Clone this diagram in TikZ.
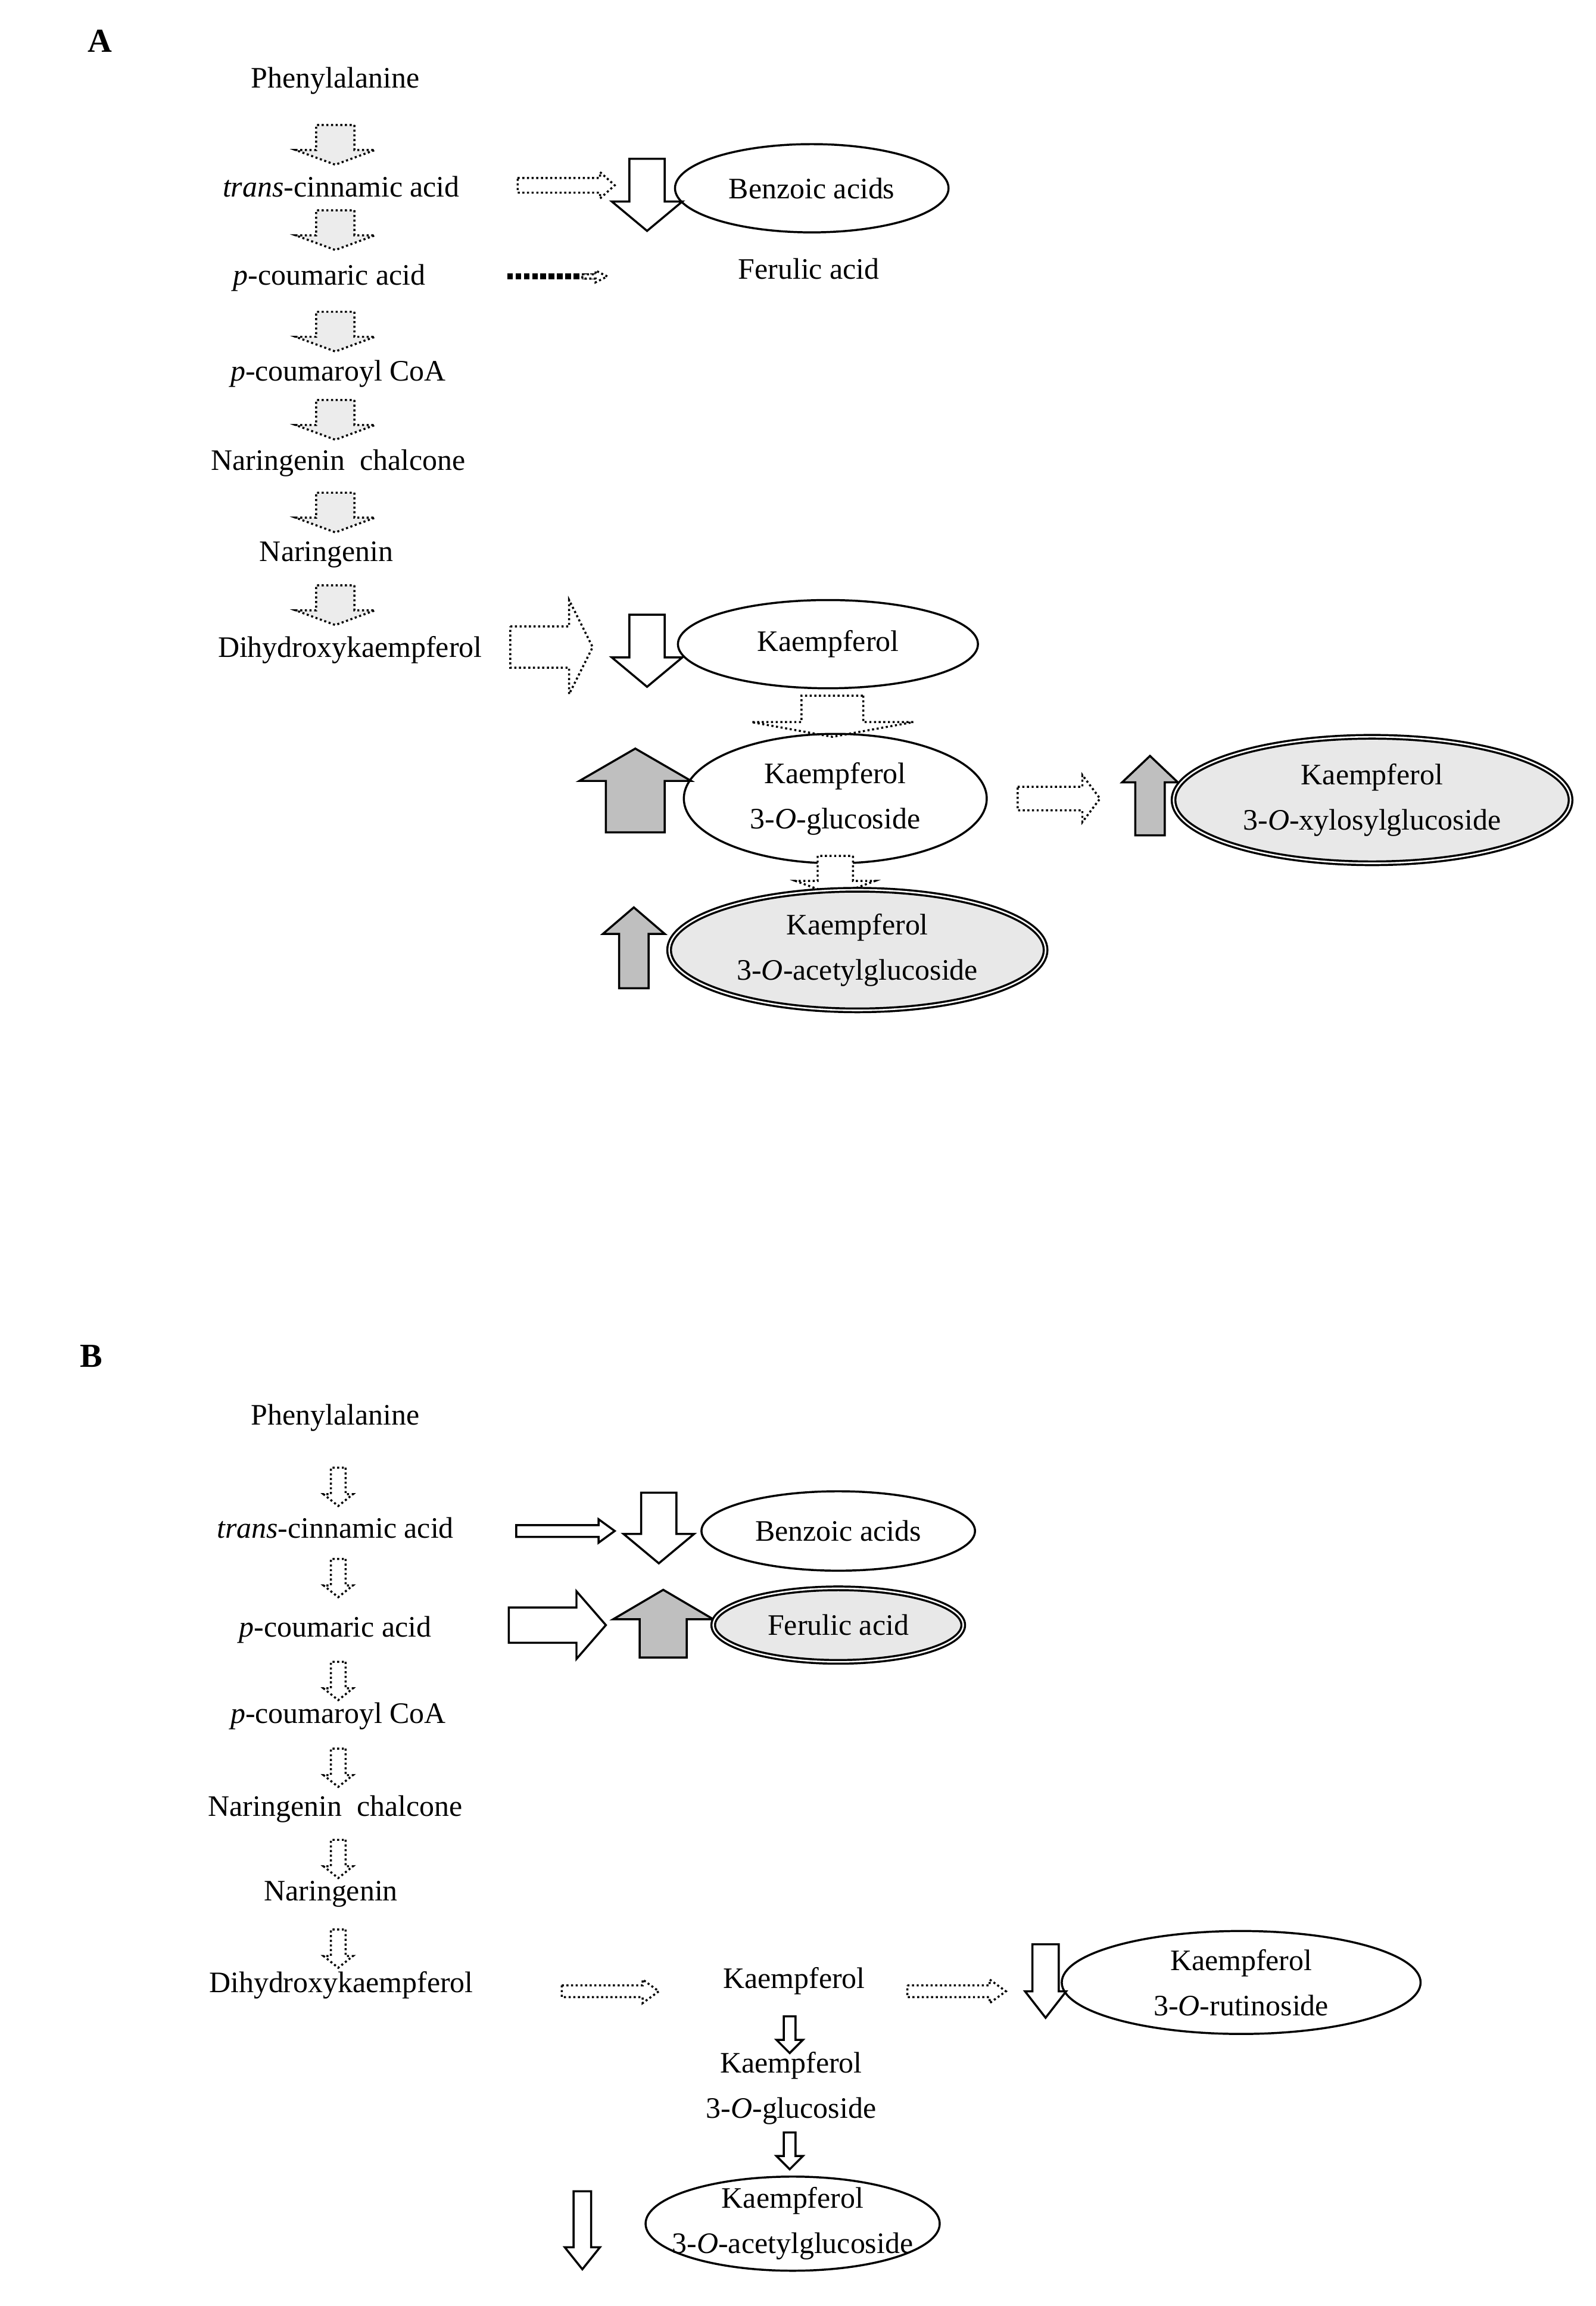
\documentclass[tikz,border=0pt]{standalone}
\usetikzlibrary{shapes.geometric}
\usepackage{fontspec}
\setmainfont{Liberation Serif}
\begin{document}
\begin{tikzpicture}[x=0.02cm,y=-0.02cm,
  lbl/.style={font=\fontsize{11.5}{13.5}\selectfont,align=center,inner sep=0pt},
  ell/.style n args={2}{draw,ellipse,thick,inner sep=0pt,minimum width=#1*0.02cm,minimum height=#2*0.02cm},
  dotarr/.style={draw,densely dotted,thick,fill=gray!15},
  dotw/.style={draw,densely dotted,thick,fill=white},
  whitearr/.style={draw,thick,fill=white},
  grayarr/.style={draw,thick,fill=gray!50},
  dbl/.style={fill=gray!18,double,double distance=0.6pt},
  panel/.style={font=\bfseries\fontsize{13}{15}\selectfont}]
\newcommand\barr[7]{\path[#1,shift={(#2)},rotate=#3] (0,-#5)--(#4-#7,-#5)--(#4-#7,-#6)--(#4,0)--(#4-#7,#6)--(#4-#7,#5)--(0,#5)--cycle;}
\useasboundingbox (0,0) rectangle (1085,1568);
% ---------- Panel A
\node[panel] (A) at (68,28) {A};
\node[lbl] (a1) at (228,55) {Phenylalanine};
\node[lbl] (a2) at (232,127) {\textit{trans}-cinnamic acid};
\node[lbl] (a3) at (224,189) {\textit{p}-coumaric acid};
\node[lbl] (a4) at (230,254) {\textit{p}-coumaroyl CoA};
\node[lbl] (a5) at (230,315) {Naringenin\ \ chalcone};
\node[lbl] (a6) at (222,377) {Naringenin};
\node[lbl] (a7) at (238,442) {Dihydroxykaempferol};
\foreach \y in {85,143,212,272,335,398}{\barr{dotarr}{228,\y}{-90}{27}{13}{27}{10}}
\barr{dotw}{352,126}{0}{66}{5}{9}{10}
\barr{whitearr}{440,108}{-90}{49}{12}{24}{20}
\node[ell={186}{60}] (benzA) at (552,128) {};
\node[lbl] at (benzA) {Benzoic acids};
\node[lbl] (ferA) at (550,183) {Ferulic acid};
\draw[line width=2.2pt,densely dotted] (345,188) -- (405,188);
\barr{dotw}{396,188}{0}{17}{1.5}{4}{8}
\barr{dotw}{347,440}{0}{56}{14}{32}{16}
\barr{whitearr}{440,418}{-90}{49}{12}{24}{20}
\node[ell={204}{60}] (kA) at (563,438) {};
\node[lbl] at (kA) {Kaempferol};
\barr{dotw}{566,473}{-90}{28}{21}{55}{10}
\node[ell={206}{88}] (kgA) at (568,543) {};
\node[lbl] at (kgA) {Kaempferol\\[4pt]3-\textit{O}-glucoside};
\barr{grayarr}{432,566}{90}{57}{20}{38}{22}
\barr{dotw}{692,543}{0}{56}{8}{16}{12}
\barr{grayarr}{782,568}{90}{54}{10}{19}{18}
\node[ell={270}{86},dbl] (kxA) at (933,544) {};
\node[lbl] at (kxA) {Kaempferol\\[4pt]3-\textit{O}-xylosylglucoside};
\barr{dotw}{568,582}{-90}{27}{12}{27}{10}
\barr{grayarr}{431,672}{90}{55}{10}{21}{18}
\node[ell={256}{82},dbl] (kaA) at (583,646) {};
\node[lbl] at (kaA) {Kaempferol\\[4pt]3-\textit{O}-acetylglucoside};
% ---------- Panel B
\node[panel] (B) at (62,922) {B};
\node[lbl] (b1) at (228,964) {Phenylalanine};
\node[lbl] (b2) at (228,1039) {\textit{trans}-cinnamic acid};
\node[lbl] (b3) at (228,1108) {\textit{p}-coumaric acid};
\node[lbl] (b4) at (230,1167) {\textit{p}-coumaroyl CoA};
\node[lbl] (b5) at (228,1230) {Naringenin\ \ chalcone};
\node[lbl] (b6) at (225,1288) {Naringenin};
\node[lbl] (b7) at (232,1350) {Dihydroxykaempferol};
\foreach \y in {998,1060,1130,1189,1251,1312}{\barr{dotw}{230,\y}{-90}{26}{5}{10}{8}}
\barr{whitearr}{351,1041}{0}{67}{4}{8}{11}
\barr{whitearr}{448,1015}{-90}{48}{12}{24}{20}
\node[ell={186}{54}] (benzB) at (570,1041) {};
\node[lbl] at (benzB) {Benzoic acids};
\barr{whitearr}{346,1105}{0}{66}{12}{23}{20}
\barr{grayarr}{451,1127}{90}{46}{16}{34}{20}
\node[ell={170}{50},dbl] (ferB) at (570,1105) {};
\node[lbl] at (ferB) {Ferulic acid};
\barr{dotw}{382,1354}{0}{66}{4}{8}{11}
\node[lbl] (kB) at (540,1347) {Kaempferol};
\barr{dotw}{617,1354}{0}{67}{4}{8}{11}
\barr{whitearr}{711,1322}{-90}{50}{9}{14}{18}
\node[ell={244}{70}] (krB) at (844,1348) {};
\node[lbl] at (krB) {Kaempferol\\[4pt]3-\textit{O}-rutinoside};
\barr{whitearr}{537,1371}{-90}{25}{4}{9}{9}
\node[lbl] (kgB) at (538,1420) {Kaempferol\\[4pt]3-\textit{O}-glucoside};
\barr{whitearr}{537,1450}{-90}{25}{4}{9}{9}
\barr{whitearr}{396,1490}{-90}{53}{6}{12}{15}
\node[ell={200}{64}] (kaB) at (539,1512) {};
\node[lbl] at (kaB) {Kaempferol\\[4pt]3-\textit{O}-acetylglucoside};
\end{tikzpicture}
\end{document}
